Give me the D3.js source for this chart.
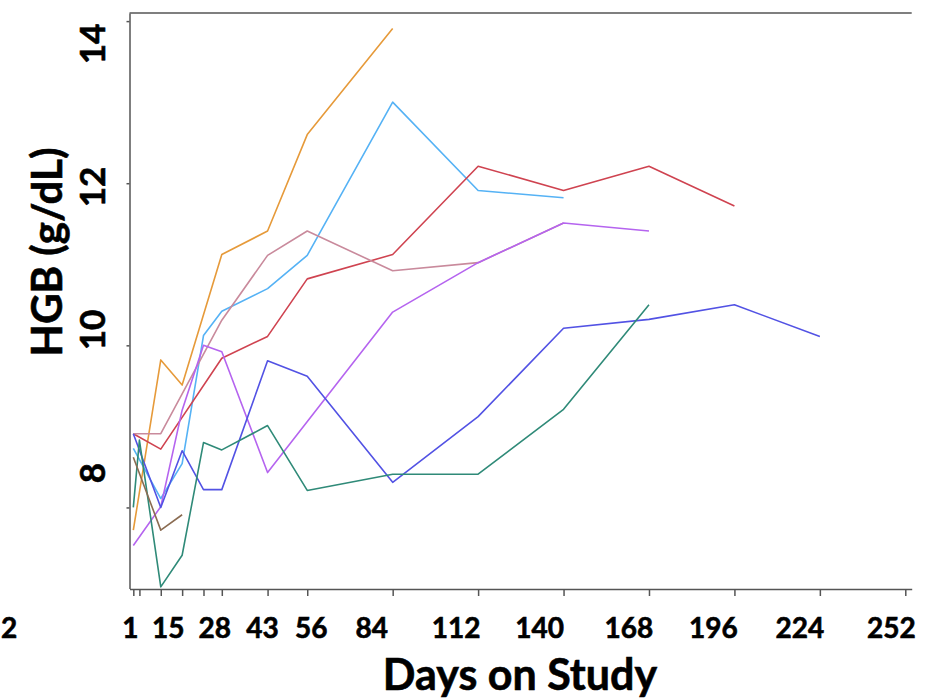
<!DOCTYPE html>
<html>
<head>
<meta charset="utf-8">
<script src="https://cdn.jsdelivr.net/npm/d3@7"></script>
<style>
  body { margin: 0; background: #fff; }
  svg text { font-family: Lato, "Open Sans", sans-serif; font-weight: 700; fill: #000; stroke: #000; stroke-width: 0.6; }
</style>
</head>
<body>
<div id="chart"></div>
<script>
// HGB by patient over days on study
var pt1Days = [-1, 8, 15, 28, 43, 56, 84];                 // orange
var pt1Hgb  = [7.72, 9.82, 9.51, 11.12, 11.41, 12.60, 13.91];
var pt2Days = [-1, 8, 15, 22, 28, 43, 56, 84, 112, 140];   // light blue
var pt2Hgb  = [8.73, 8.11, 8.54, 10.12, 10.42, 10.70, 11.11, 13.00, 11.91, 11.82];
var pt3Days = [-1, 8, 28, 43, 56, 84, 112, 140, 168, 196]; // red
var pt3Hgb  = [8.91, 8.72, 9.84, 10.11, 10.82, 11.12, 12.21, 11.91, 12.21, 11.72];
var pt4Days = [-1, 8, 28, 43, 56, 84, 112, 140];           // pink
var pt4Hgb  = [8.91, 8.91, 10.31, 11.11, 11.41, 10.92, 11.02, 11.51];
var pt5Days = [-1, 8, 15, 22, 28, 43, 84, 112, 140, 168];  // purple
var pt5Hgb  = [7.53, 8.01, 9.20, 10.00, 9.92, 8.43, 10.41, 11.02, 11.51, 11.41];
var pt6Days = [-1, 8, 15, 22, 28, 43, 56, 84, 112, 140, 168, 196, 224]; // dark blue
var pt6Hgb  = [8.91, 8.00, 8.70, 8.22, 8.22, 9.81, 9.62, 8.31, 9.12, 10.21, 10.32, 10.50, 10.11];
var pt7Days = [-1, 1, 8, 15, 22, 28, 43, 56, 84, 112, 140, 168]; // teal
var pt7Hgb  = [8.00, 8.83, 7.02, 7.41, 8.80, 8.71, 9.01, 8.21, 8.41, 8.41, 9.21, 10.50];
var pt8Days = [-1, 8, 15];                                  // brown
var pt8Hgb  = [8.62, 7.72, 7.91];

var tickDays = [-1, 1, 8, 15, 22, 28, 43, 56, 84, 112, 140, 168, 196, 224, 252];
var xLabels = ["1", "15", "28", "43", "56", "84", "112", "140", "168", "196", "224", "252"];
var xLabelDays = [1, 15, 28, 43, 56, 84, 112, 140, 168, 196, 224, 252];
var yTicks = [8, 10, 12, 14];

var series = [
    {days: pt1Days, hgb: pt1Hgb, color: "#e69a3a"},
    {days: pt2Days, hgb: pt2Hgb, color: "#55b2f5"},
    {days: pt3Days, hgb: pt3Hgb, color: "#cf4350"},
    {days: pt4Days, hgb: pt4Hgb, color: "#c98a9c"},
    {days: pt5Days, hgb: pt5Hgb, color: "#b564ef"},
    {days: pt6Days, hgb: pt6Hgb, color: "#5252e4"},
    {days: pt7Days, hgb: pt7Hgb, color: "#2f8a78"},
    {days: pt8Days, hgb: pt8Hgb, color: "#8b6c52"}
];

// the printed labels sit a bit off their ticks in the original
var xLabelShift = [-9, -14, -7, -5, 4, -21, -22, -24, -20, -21, -20, -14];

var svg = d3.select("#chart").append("svg").attr("width", 937).attr("height", 700);

var x = d3.scaleLinear().domain([-2.25, 254.1]).range([129.5, 911.7]);
var y = d3.scaleLinear().domain([7, 14.1]).range([588.5, 13]);
// label positions for the y axis (evenly spaced, offset from ticks)
var yLab = d3.scaleLinear().domain([8, 14]).range([473, 44]);

var line = d3.line()
    .x(function(d) { return x(d[0]); })
    .y(function(d) { return y(d[1]); });

svg.append("g")
    .selectAll("path")
    .data(series)
    .enter().append("path")
    .attr("fill", "none")
    .attr("stroke", function(s) { return s.color; })
    .attr("stroke-width", 1.6)
    .attr("stroke-linejoin", "round")
    .attr("d", function(s) { return line(s.days.map(function(d, i) { return [d, s.hgb[i]]; })); });

var xAxis = d3.axisBottom(x).tickValues(tickDays).tickFormat("").tickSize(7).tickSizeOuter(0);
var yAxis = d3.axisLeft(y).tickValues(yTicks).tickFormat("").tickSize(3).tickSizeOuter(0);

var gx = svg.append("g").attr("transform", "translate(0,589)").call(xAxis);
var gy = svg.append("g").attr("transform", "translate(129.5,0)").call(yAxis);
[gx, gy].forEach(function(g) {
    g.selectAll("path, line").attr("stroke", "#555").attr("stroke-width", 1.5);
});

// top border
svg.append("line")
    .attr("x1", x.range()[0]).attr("x2", x.range()[1])
    .attr("y1", y.range()[1]).attr("y2", y.range()[1])
    .attr("stroke", "#555").attr("stroke-width", 1.5);

svg.append("g")
    .selectAll("text")
    .data(xLabels)
    .enter().append("text")
    .attr("x", function(d, i) { return x(xLabelDays[i]) + xLabelShift[i]; })
    .attr("y", 638)
    .attr("text-anchor", "middle")
    .attr("font-size", 28)
    .text(function(d) { return d; });

// clipped leftover label at the far left
svg.append("text").attr("x", 9).attr("y", 638).attr("text-anchor", "middle")
    .attr("font-size", 28).text("2");

svg.append("g")
    .selectAll("text")
    .data(yTicks)
    .enter().append("text")
    .attr("transform", function(d) { return "translate(105," + yLab(d) + ") rotate(-90)"; })
    .attr("text-anchor", "middle")
    .attr("font-size", 35)
    .text(function(d) { return d; });

svg.append("text")
    .attr("transform", "translate(62,252) rotate(-90)")
    .attr("text-anchor", "middle")
    .attr("font-size", 42)
    .text("HGB (g/dL)");

svg.append("text")
    .attr("x", 520).attr("y", 690)
    .attr("text-anchor", "middle")
    .attr("font-size", 43)
    .text("Days on Study");
</script>
</body>
</html>
